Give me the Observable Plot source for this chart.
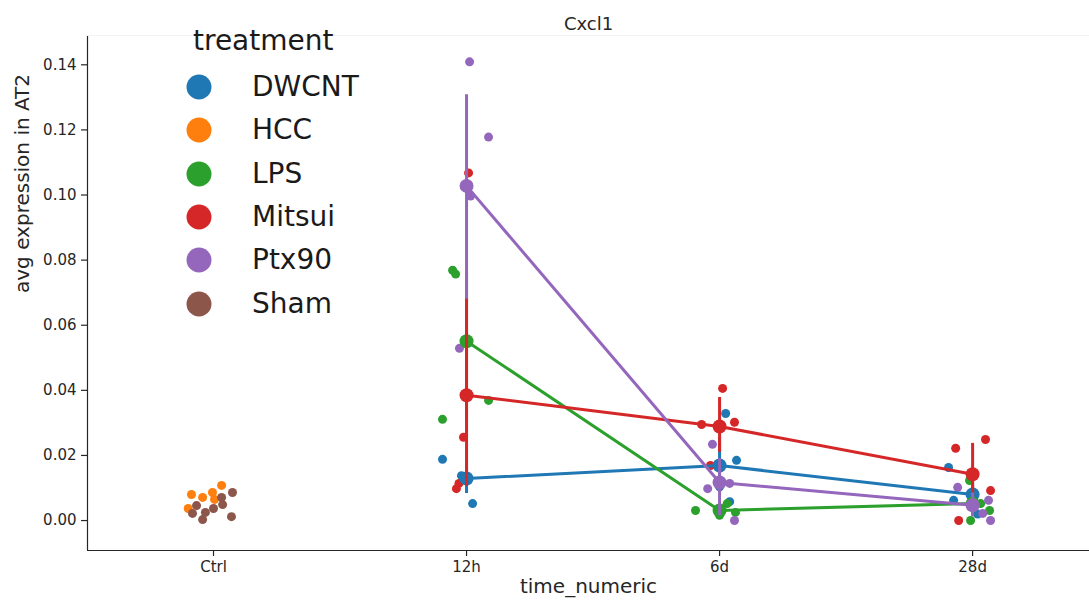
<!DOCTYPE html>
<html>
<head>
<meta charset="utf-8">
<script src="https://cdn.jsdelivr.net/npm/d3@7"></script>
<script src="https://cdn.jsdelivr.net/npm/@observablehq/plot@0.6"></script>
<style>
  html, body { margin: 0; padding: 0; background: #fff; }
  #wrap { position: relative; width: 1089px; height: 606px; font-family: "DejaVu Sans", sans-serif; }
  #legend { position: absolute; left: 0; top: 0; pointer-events: none; color: #1a1a1a; }
  .lt { position: absolute; font-size: 28px; line-height: 1; white-space: nowrap; transform: translateY(-50%); }
  .lc { position: absolute; width: 25px; height: 25px; border-radius: 50%; transform: translate(-50%, -50%); }
</style>
</head>
<body>
<div id="wrap"><div id="chart"></div><div id="legend"></div></div>
<script>
// ---- data ----
const categories = ["Ctrl", "12h", "6d", "28d"];
const treatments = ["DWCNT", "HCC", "LPS", "Mitsui", "Ptx90", "Sham"];
const palette = ["#1f77b4", "#ff7f0e", "#2ca02c", "#d62728", "#9467bd", "#8c564b"];
const yTicks = [0, 0.02, 0.04, 0.06, 0.08, 0.10, 0.12, 0.14];

// individual samples: [treatment, time, value, jitter]
const samples = [
  ["HCC","Ctrl",0.0037,-0.10],["HCC","Ctrl",0.0080,-0.087],["HCC","Ctrl",0.0071,-0.043],
  ["HCC","Ctrl",0.0086,-0.004],["HCC","Ctrl",0.0108,0.032],["HCC","Ctrl",0.0065,0.004],
  ["Sham","Ctrl",0.0086,0.075],["Sham","Ctrl",0.0071,0.032],["Sham","Ctrl",0.0046,-0.067],
  ["Sham","Ctrl",0.0022,-0.083],["Sham","Ctrl",0.0003,-0.043],["Sham","Ctrl",0.0025,-0.032],
  ["Sham","Ctrl",0.0037,0.0],["Sham","Ctrl",0.0049,0.036],["Sham","Ctrl",0.0012,0.071],
  ["DWCNT","12h",0.0188,-0.095],["DWCNT","12h",0.0138,-0.02],["DWCNT","12h",0.0135,0.0],["DWCNT","12h",0.0052,0.024],
  ["LPS","12h",0.0769,-0.055],["LPS","12h",0.0757,-0.043],["LPS","12h",0.0311,-0.095],["LPS","12h",0.0369,0.087],
  ["Mitsui","12h",0.1068,0.008],["Mitsui","12h",0.0256,-0.012],["Mitsui","12h",0.0098,-0.04],["Mitsui","12h",0.0114,-0.03],
  ["Ptx90","12h",0.1409,0.012],["Ptx90","12h",0.1178,0.087],["Ptx90","12h",0.0997,0.016],["Ptx90","12h",0.0529,-0.028],
  ["DWCNT","6d",0.0329,0.024],["DWCNT","6d",0.0185,0.067],["DWCNT","6d",0.0104,0.0],["DWCNT","6d",0.0058,0.04],
  ["LPS","6d",0.0031,-0.095],["LPS","6d",0.0052,0.03],["LPS","6d",0.0025,0.063],["LPS","6d",0.0016,0.0],
  ["Mitsui","6d",0.0406,0.012],["Mitsui","6d",0.0295,-0.071],["Mitsui","6d",0.0302,0.059],["Mitsui","6d",0.0169,-0.036],
  ["Ptx90","6d",0.0234,-0.028],["Ptx90","6d",0.0098,-0.047],["Ptx90","6d",0.0114,0.04],["Ptx90","6d",0.0000,0.059],
  ["DWCNT","28d",0.0163,-0.095],["DWCNT","28d",0.0062,-0.075],["DWCNT","28d",0.0075,0.0],["DWCNT","28d",0.0020,0.02],
  ["LPS","28d",0.0123,-0.012],["LPS","28d",0.0052,0.032],["LPS","28d",0.0031,0.067],["LPS","28d",0.0000,-0.008],
  ["Mitsui","28d",0.0222,-0.067],["Mitsui","28d",0.0249,0.051],["Mitsui","28d",0.0092,0.071],["Mitsui","28d",0.0000,-0.055],
  ["Ptx90","28d",0.0102,-0.059],["Ptx90","28d",0.0062,0.063],["Ptx90","28d",0.0022,0.04],["Ptx90","28d",0.0000,0.071]
];

// group estimates: [treatment, time, mean, ciLow, ciHigh]
const estimates = [
  ["DWCNT","12h",0.0129,0.0083,0.0172],["DWCNT","6d",0.0169,0.0085,0.0255],["DWCNT","28d",0.0080,0.0040,0.0125],
  ["LPS","12h",0.0551,0.0310,0.0765],["LPS","6d",0.0031,0.0020,0.0045],["LPS","28d",0.0052,0.0015,0.0105],
  ["Mitsui","12h",0.0385,0.0105,0.0686],["Mitsui","6d",0.0289,0.0210,0.0378],["Mitsui","28d",0.0142,0.0040,0.0237],
  ["Ptx90","12h",0.1028,0.0680,0.1308],["Ptx90","6d",0.0117,0.0015,0.0190],["Ptx90","28d",0.0047,0.0011,0.0085]
];

// ---- build ----
const idx = t => categories.indexOf(t);
const strip = samples.map(([treatment, time, value, jitter]) => ({treatment, t: idx(time), value, jitter}));
const est = estimates.map(([treatment, time, mean, lo, hi]) => ({treatment, t: idx(time), mean, lo, hi}));

const xDomain = [-0.498, 3.462];
const yDomain = [-0.0092, 0.149];
const ink = "#262626";

const perHue = treatments.flatMap(tr => {
  const d = est.filter(e => e.treatment === tr);
  if (!d.length) return [];
  return [
    Plot.ruleX(d, {x: "t", y1: "lo", y2: "hi", stroke: "treatment", strokeWidth: 3}),
    Plot.line(d, {x: "t", y: "mean", stroke: "treatment", strokeWidth: 3}),
    Plot.dot(d, {x: "t", y: "mean", fill: "treatment", r: 7})
  ];
});

const chart = Plot.plot({
  width: 1089,
  height: 606,
  marginTop: 35,
  marginBottom: 56,
  marginLeft: 87,
  marginRight: 0,
  style: {fontFamily: "DejaVu Sans, sans-serif", background: "#fff", color: ink},
  x: {domain: xDomain, axis: null},
  y: {domain: yDomain, axis: null},
  color: {domain: treatments, range: palette},
  marks: [
    Plot.axisY({ticks: yTicks, tickFormat: d3.format(".2f"), fontSize: 15, tickSize: 6, tickPadding: 5, label: null, stroke: ink, strokeWidth: 1.2}),
    Plot.axisX({ticks: [0, 1, 2, 3], tickFormat: i => categories[i], fontSize: 15, tickSize: 6, tickPadding: 5, label: null, stroke: ink, strokeWidth: 1.2}),
    Plot.ruleX([xDomain[0]], {stroke: ink, strokeWidth: 1.2}),
    Plot.ruleY([yDomain[0]], {stroke: ink, strokeWidth: 1.2}),
    Plot.ruleY([yDomain[1]], {stroke: "#f2f2f2", strokeWidth: 1}),
    Plot.dot(strip, {x: d => d.t + d.jitter, y: "value", fill: "treatment", r: 4.5}),
    ...perHue,
    Plot.text(["Cxcl1"], {frameAnchor: "top", dy: -18, fontSize: 18, fill: ink}),
    Plot.text(["avg expression in AT2"], {frameAnchor: "left", rotate: -90, dx: -65, fontSize: 20, fill: ink}),
    Plot.text(["time_numeric"], {frameAnchor: "bottom", dy: 42, fontSize: 20, fill: ink})
  ]
});
document.getElementById("chart").appendChild(chart);

// legend overlay
const lg = document.getElementById("legend");
const title = document.createElement("div");
title.className = "lt"; title.textContent = "treatment";
title.style.left = "193px"; title.style.top = "41px";
lg.appendChild(title);
treatments.forEach((tr, i) => {
  const y = 87 + 43.3 * i;
  const c = document.createElement("div");
  c.className = "lc"; c.style.left = "199px"; c.style.top = y + "px"; c.style.background = palette[i];
  lg.appendChild(c);
  const t = document.createElement("div");
  t.className = "lt"; t.textContent = tr; t.style.left = "252px"; t.style.top = y + "px";
  lg.appendChild(t);
});
</script>
</body>
</html>
